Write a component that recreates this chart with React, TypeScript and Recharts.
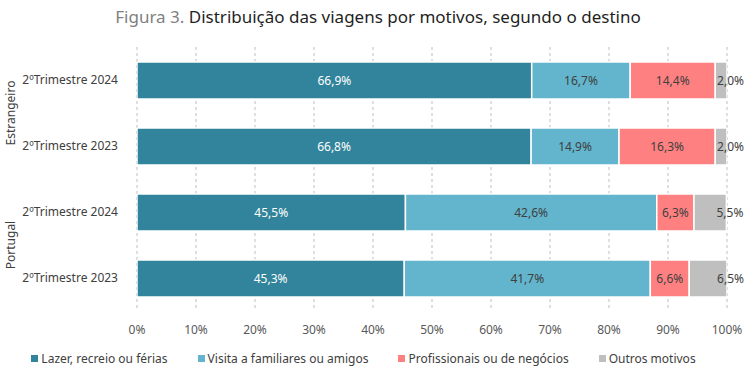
import React from "react";
import { BarChart, Bar, XAxis, YAxis, CartesianGrid, LabelList, Legend } from "recharts";

const categories = ["2ºTrimestre 2024", "2ºTrimestre 2023", "2ºTrimestre 2024", "2ºTrimestre 2023"];
const groups = ["Estrangeiro", "Estrangeiro", "Portugal", "Portugal"];
const lazer = [66.9, 66.8, 45.5, 45.3];
const visita = [16.7, 14.9, 42.6, 41.7];
const profissionais = [14.4, 16.3, 6.3, 6.6];
const outros = [2.0, 2.0, 5.5, 6.5];
const xTicks = [0, 10, 20, 30, 40, 50, 60, 70, 80, 90, 100];

const series = [
  { key: "lazer", name: "Lazer, recreio ou férias", color: "#31849B", text: "#ffffff" },
  { key: "visita", name: "Visita a familiares ou amigos", color: "#62B5CC", text: "#404040" },
  { key: "prof", name: "Profissionais ou de negócios", color: "#FF8080", text: "#404040" },
  { key: "outros", name: "Outros motivos", color: "#BFBFBF", text: "#404040" },
];

const data = categories.map((c, i) => ({
  id: "r" + i,
  label: c,
  group: groups[i],
  lazer: lazer[i],
  visita: visita[i],
  prof: profissionais[i],
  outros: outros[i],
}));

const FONT = "'Noto Sans', sans-serif";
const fmt = (v: number) => v.toFixed(1).replace(".", ",") + "%";

function CategoryTick(props: any) {
  const { x, y, payload, index } = props;
  const row = data[index] || data.find((d) => d.id === payload.value);
  const showGroup = index === 0 || index === 2;
  return (
    <g>
      <text x={x} y={y} dy={4} textAnchor="end" fontSize={12} fill="#404040" fontFamily={FONT}>
        {row ? row.label : ""}
      </text>
      {showGroup && row ? (
        <text
          x={15}
          y={y + 33}
          textAnchor="middle"
          fontSize={12}
          fill="#404040"
          fontFamily={FONT}
          transform={`rotate(-90, 15, ${y + 33})`}
        >
          {row.group}
        </text>
      ) : null}
    </g>
  );
}

function makeLabel(color: string, outside: boolean) {
  return (props: any) => {
    const { x, y, width, height, value } = props;
    const cx = outside ? x + width + 17 : x + width / 2;
    return (
      <text
        x={cx}
        y={y + height / 2}
        dy={4}
        textAnchor={outside ? "end" : "middle"}
        fontSize={12}
        fill={color}
        fontFamily={FONT}
      >
        {fmt(value)}
      </text>
    );
  };
}

function LegendContent() {
  return (
    <div style={{ display: "flex", justifyContent: "center", gap: 30, fontFamily: FONT, fontSize: 12, color: "#404040" }}>
      {series.map((s) => (
        <div key={s.key} style={{ display: "flex", alignItems: "center" }}>
          <span style={{ display: "inline-block", width: 7, height: 7, background: s.color, marginRight: 3 }} />
          {s.name}
        </div>
      ))}
    </div>
  );
}

export default function App() {
  return (
    <div style={{ position: "absolute", left: 0, top: 0, width: 756, height: 373, background: "#fff" }}>
      <div
        style={{
          position: "absolute",
          top: 5,
          left: 0,
          width: 756,
          textAlign: "center",
          fontFamily: FONT,
          fontSize: 17,
          color: "#1f1f1f",
        }}
      >
        <span style={{ color: "#7f7f7f" }}>Figura 3. </span>Distribuição das viagens por motivos, segundo o destino
      </div>
      <BarChart
        width={756}
        height={373}
        data={data}
        layout="vertical"
        margin={{ top: 47, right: 29, bottom: 15, left: 0 }}
        barSize={37}
      >
        <CartesianGrid horizontal={false} vertical stroke="#BFBFBF" strokeDasharray="3 3" />
        <XAxis
          type="number"
          domain={[0, 100]}
          ticks={xTicks}
          allowDataOverflow
          tickFormatter={(v: number) => v + "%"}
          axisLine={false}
          tickLine={false}
          tickMargin={8}
          tick={{ fontSize: 12, fill: "#595959", fontFamily: FONT }}
        />
        <YAxis
          type="category"
          dataKey="id"
          width={137}
          axisLine={false}
          tickLine={false}
          tickMargin={13}
          tick={<CategoryTick />}
        />
        <Legend verticalAlign="bottom" wrapperStyle={{ bottom: 6 }} content={<LegendContent />} />
        {series.map((s) => (
          <Bar
            key={s.key}
            dataKey={s.key}
            name={s.name}
            stackId="a"
            fill={s.color}
            stroke="#ffffff"
            strokeWidth={1.5}
            isAnimationActive={false}
          >
            <LabelList dataKey={s.key} content={makeLabel(s.text, s.key === "outros")} />
          </Bar>
        ))}
      </BarChart>
    </div>
  );
}
